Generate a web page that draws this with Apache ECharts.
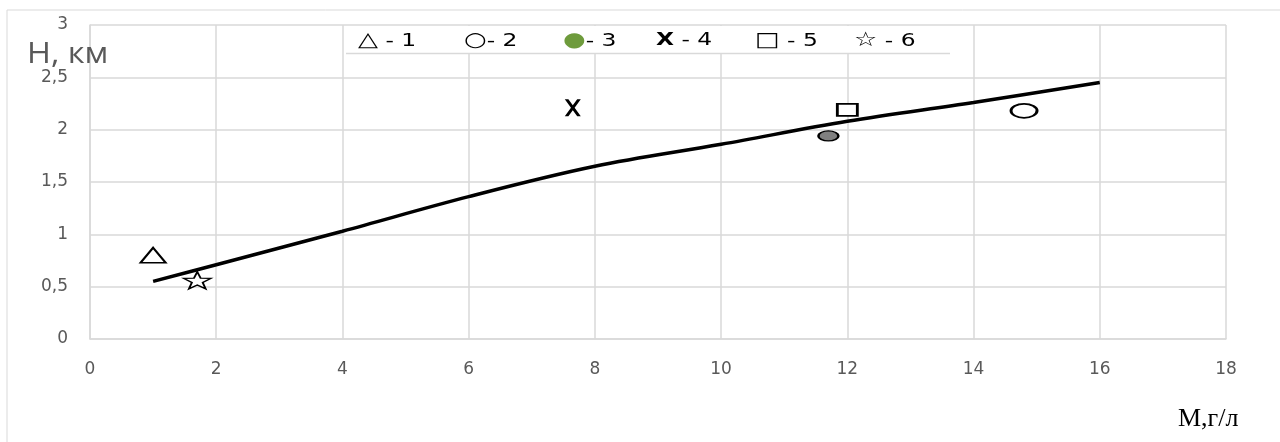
<!DOCTYPE html>
<html>
<head>
<meta charset="utf-8">
<script src="https://cdn.jsdelivr.net/npm/echarts@6/dist/echarts.min.js"></script>
<style>html,body{margin:0;padding:0;background:#fff}#c{width:1280px;height:442px}</style>
</head>
<body>
<div id="c"></div>
<script>
// ---- data ----
const curveX = [1, 2, 4, 6, 8, 10, 12, 14, 16];
const curveY = [0.55, 0.71, 1.03, 1.36, 1.65, 1.86, 2.08, 2.26, 2.45];
const pointNames = ['1', '2', '3', '4', '5', '6'];
const pointX = [1.0, 14.8, 11.7, 7.65, 12.0, 1.7];
const pointY = [0.80, 2.18, 1.94, 2.21, 2.19, 0.56];
const legendSymbols = ['△', '○', '●', 'X', '□', '☆'];
const legendSep = [' - ', '- ', '- ', ' - ', ' - ', ' - '];
const xTicks = [0, 2, 4, 6, 8, 10, 12, 14, 16, 18];
const yTicks = ['0', '0,5', '1', '1,5', '2', '2,5', '3'];
const yName = 'Н, км';
const xName = 'М,г/л';

// ---- styles (not data) ----
const STAR = 'path://M100,0 L123.5,67.6 L195.1,69.1 L138,112.4 L158.8,180.9 L100,140 L41.2,180.9 L62,112.4 L4.9,69.1 L76.5,67.6 Z';
const XPATH = 'path://M0,0 L4.5,0 L10,7 L15.5,0 L20,0 L12.3,10 L20,20 L15.5,20 L10,13 L4.5,20 L0,20 L7.7,10 Z';
const markerStyles = [
  { symbol: 'triangle', size: [25, 15], fill: '#fff', stroke: '#000', bw: 2 },
  { symbol: 'circle', size: [26, 14], fill: '#fff', stroke: '#000', bw: 2.2 },
  { symbol: 'circle', size: [20, 10], fill: '#808080', stroke: '#000', bw: 1.8 },
  { symbol: XPATH, size: [16, 17], fill: '#000', stroke: '#000', bw: 0 },
  { symbol: 'rect', size: [20, 12], fill: '#fff', stroke: '#000', bw: 2.2 },
  { symbol: STAR, size: [27, 17], fill: '#fff', stroke: '#000', bw: 1.6 }
];
const legendLeft = [358, 464, 563, 656, 755, 854];

const chart = echarts.init(document.getElementById('c'), null, { renderer: 'canvas' });

const scatterSeries = pointNames.map((n, i) => ({
  type: 'scatter',
  name: n,
  data: [[pointX[i], pointY[i]]],
  symbol: markerStyles[i].symbol,
  symbolSize: markerStyles[i].size,
  symbolKeepAspect: false,
  itemStyle: { color: markerStyles[i].fill, borderColor: markerStyles[i].stroke, borderWidth: markerStyles[i].bw, opacity: 1 },
  z: 5,
  silent: true
}));

const legendGraphics = legendSymbols.map((s, i) => ({
  type: 'text',
  left: legendLeft[i],
  top: 31,
  z: 20,
  scaleX: 1.3,
  style: {
    text: '{s|' + s + '}{t|' + legendSep[i] + pointNames[i] + '}',
    rich: {
      s: { fontSize: i === 3 ? 18 : 20, fontFamily: 'DejaVu Sans', fill: i === 2 ? '#6e9b3c' : '#000', fontWeight: i === 3 ? 'bold' : 'normal', verticalAlign: 'middle' },
      t: { fontSize: 18, fontFamily: 'DejaVu Sans', fill: '#000', verticalAlign: 'middle' }
    }
  }
}));

chart.setOption({
  animation: false,
  backgroundColor: '#fff',
  grid: { left: 90, right: 54, top: 25, bottom: 103, containLabel: false },
  xAxis: {
    type: 'value', min: 0, max: 18, interval: 2,
    axisLine: { show: true, lineStyle: { color: '#d9d9d9', width: 1.5 } },
    axisTick: { show: false },
    splitLine: { show: true, lineStyle: { color: '#d9d9d9', width: 1.5 } },
    axisLabel: { color: '#595959', fontSize: 17, fontFamily: 'DejaVu Sans', margin: 22,
      formatter: v => String(xTicks[xTicks.indexOf(v)]) }
  },
  yAxis: {
    type: 'value', min: 0, max: 3, interval: 0.5,
    axisLine: { show: true, lineStyle: { color: '#d9d9d9', width: 1.5 } },
    axisTick: { show: false },
    splitLine: { show: true, lineStyle: { color: '#d9d9d9', width: 1.5 } },
    axisLabel: { color: '#595959', fontSize: 17, fontFamily: 'DejaVu Sans', margin: 22,
      formatter: v => yTicks[Math.round(v * 2)] }
  },
  series: [
    {
      type: 'line',
      data: curveX.map((x, i) => [x, curveY[i]]),
      smooth: 0.35,
      symbol: 'none',
      lineStyle: { color: '#000', width: 3.5 },
      z: 4,
      silent: true
    }
  ].concat(scatterSeries),
  graphic: [
    { type: 'rect', shape: { x: 7, y: 10, width: 1400, height: 800 }, style: { fill: 'none', stroke: '#d9d9d9', lineWidth: 1 }, z: 1, silent: true },
    { type: 'rect', shape: { x: 344, y: 26, width: 606, height: 27 }, style: { fill: '#fff', stroke: null }, z: 15 },
    { type: 'line', shape: { x1: 346, y1: 53.5, x2: 950, y2: 53.5 }, style: { stroke: '#d9d9d9', lineWidth: 1.5 }, z: 16 },
    {
      type: 'text', left: 27, top: 40, z: 20, scaleX: 1.12,
      style: { text: yName, fontSize: 29, fontFamily: 'Open Sans', fill: '#595959' }
    },
    {
      type: 'text', left: 1178, top: 406, z: 20,
      style: { text: xName, fontSize: 26, fontFamily: 'Liberation Serif', fill: '#000' }
    }
  ].concat(legendGraphics)
});
</script>
</body>
</html>
